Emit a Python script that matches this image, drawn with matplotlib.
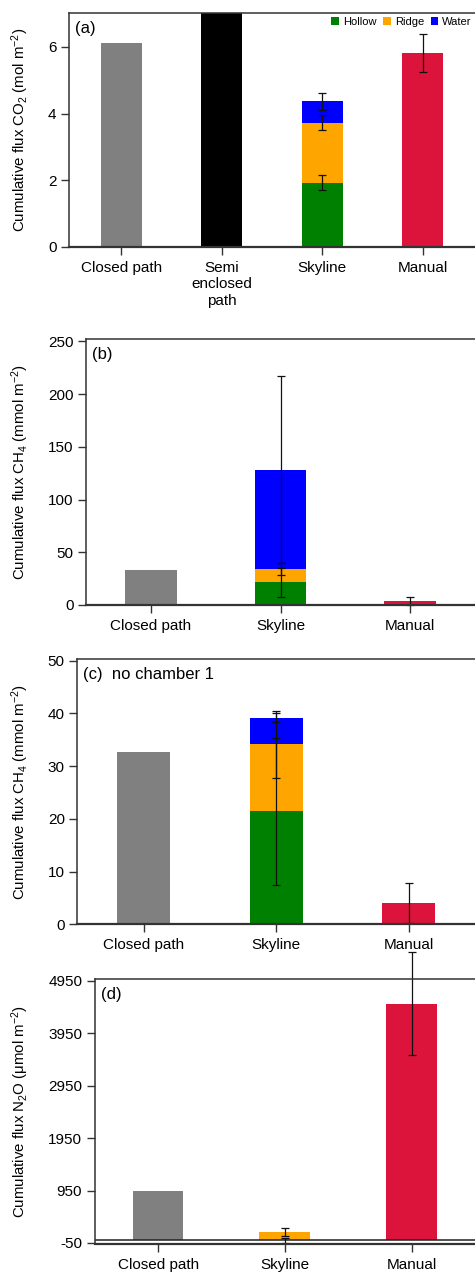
import numpy as np
import matplotlib
matplotlib.use('Agg')
import matplotlib.pyplot as plt
from matplotlib.patches import Patch

plt.rcParams['font.family'] = ['Liberation Sans', 'DejaVu Sans']
plt.rcParams['mathtext.default'] = 'regular'
plt.rcParams['axes.unicode_minus'] = False

# ---- data ----
cats_a = ['Closed path', 'Semi\nenclosed\npath', 'Skyline', 'Manual']
cats_bcd = ['Closed path', 'Skyline', 'Manual']

# (a) CO2, mol m-2
co2_closed = 6.12
co2_semi = 7.6           # runs off the top of the axis
co2_sky = [1.92, 1.81, 0.64]          # hollow, ridge, water
co2_sky_err = [0.23, 0.22, 0.26]
co2_manual = 5.83
co2_manual_err = 0.57

# (b) CH4, mmol m-2
ch4_closed = 33.0
ch4_sky = [21.5, 12.7, 94.3]
ch4_sky_err = [13.6, 6.0, 88.3]
ch4_manual = 4.1
ch4_manual_err = 3.8

# (c) CH4 without chamber 1, mmol m-2
ch4n_closed = 32.6
ch4n_sky = [21.4, 12.7, 5.1]
ch4n_sky_err = [14.0, 6.4, 0.9]
ch4n_manual = 4.0
ch4n_manual_err = 3.75

# (d) N2O, umol m-2
n2o_closed = 947
n2o_sky = [0, 163, 0]
n2o_sky_err = [50, 79, 0]
n2o_manual = 4511
n2o_manual_err = 978

comp_names = ['Hollow', 'Ridge', 'Water']
comp_colors = ['#008000', '#FFA500', '#0000FF']
GRAY = '#808080'
RED = '#DC143C'

W, H = 475, 1276
fig = plt.figure(figsize=(W / 100, H / 100), dpi=100)


def make_ax(left, top, bottom):
    ax = fig.add_axes([left / W, 1 - bottom / H, (W - left) / W, (bottom - top) / H])
    ax.spines['right'].set_visible(False)
    for s in ['left', 'top', 'bottom']:
        ax.spines[s].set_color('#333333')
        ax.spines[s].set_linewidth(1.1)
    ax.spines['bottom'].set_linewidth(1.6)
    ax.tick_params(axis='y', length=6, width=1, color='#333333', labelsize=11, pad=3)
    ax.tick_params(axis='x', length=6, width=1, color='#333333', labelsize=11, pad=4)
    return ax


def errbars(ax, x, y, e):
    c = ax.errorbar(x, y, yerr=e, fmt='none', ecolor='#111111', elinewidth=0.9,
                    capsize=3, capthick=0.9)
    for part in c.lines:
        if part is None:
            continue
        items = part if isinstance(part, tuple) else (part,)
        for it in items:
            it.set_clip_on(False)


def skyline_stack(ax, x, vals, errs, width):
    bottoms = np.concatenate([[0], np.cumsum(vals)[:-1]])
    tops = np.cumsum(vals)
    for v, b, col in zip(vals, bottoms, comp_colors):
        ax.bar(x, v, bottom=b, width=width, color=col)
    for t, e in zip(tops, errs):
        if e > 0:
            errbars(ax, x, t, e)


def ylabel(ax_top, ax_bottom, text):
    fig.text(20 / W, 1 - (ax_top + ax_bottom) / 2 / H, text, rotation=90,
             ha='center', va='center', fontsize=10.8)


def panel_label(ax, text):
    ax.annotate(text, xy=(0, 1), xycoords='axes fraction', xytext=(6, -15),
                textcoords='offset pixels', ha='left', va='center', fontsize=12)


# ---- (a) ----
ax = make_ax(69, 13, 246.7)
ax.bar(0, co2_closed, width=0.41, color=GRAY)
ax.bar(1, co2_semi, width=0.41, color='black')
skyline_stack(ax, 2, co2_sky, co2_sky_err, 0.41)
ax.bar(3, co2_manual, width=0.41, color=RED)
errbars(ax, 3, co2_manual, co2_manual_err)
ax.set_xlim(-0.52, 3.52)
ax.set_ylim(0, 7.02)
ax.set_yticks([0, 2, 4, 6])
ax.set_xticks(range(4))
ax.set_xticklabels(cats_a, linespacing=1.25)
panel_label(ax, '(a)')
handles = [Patch(facecolor=c, edgecolor='none', label=n) for c, n in zip(comp_colors, comp_names)]
ax.legend(handles=handles, ncol=3, loc='upper right', bbox_to_anchor=(0.992, 0.985),
          frameon=False, fontsize=8, handlelength=0.7, handleheight=0.7,
          handletextpad=0.35, columnspacing=0.6, borderpad=0, borderaxespad=0)
ylabel(13, 246.7, r'Cumulative flux CO$_2$ (mol m$^{-2}$)')

# ---- (b) ----
ax = make_ax(86, 339.3, 605)
ax.bar(0, ch4_closed, width=0.4, color=GRAY)
skyline_stack(ax, 1, ch4_sky, ch4_sky_err, 0.4)
ax.bar(2, ch4_manual, width=0.4, color=RED)
errbars(ax, 2, ch4_manual, ch4_manual_err)
ax.set_xlim(-0.5, 2.5)
ax.set_ylim(0, 252)
ax.set_yticks([0, 50, 100, 150, 200, 250])
ax.set_xticks(range(3))
ax.set_xticklabels(cats_bcd)
panel_label(ax, '(b)')
ylabel(339.3, 605, r'Cumulative flux CH$_4$ (mmol m$^{-2}$)')

# ---- (c) ----
ax = make_ax(77.3, 659, 924.3)
ax.bar(0, ch4n_closed, width=0.4, color=GRAY)
skyline_stack(ax, 1, ch4n_sky, ch4n_sky_err, 0.4)
ax.bar(2, ch4n_manual, width=0.4, color=RED)
errbars(ax, 2, ch4n_manual, ch4n_manual_err)
ax.set_xlim(-0.5, 2.5)
ax.set_ylim(0, 50.3)
ax.set_yticks([0, 10, 20, 30, 40, 50])
ax.set_xticks(range(3))
ax.set_xticklabels(cats_bcd)
panel_label(ax, '(c)  no chamber 1')
ylabel(659, 924.3, r'Cumulative flux CH$_4$ (mmol m$^{-2}$)')

# ---- (d) ----
ax = make_ax(94.7, 979, 1244.3)
ax.axhline(0, color='#222222', lw=1.1)
ax.bar(0, n2o_closed, width=0.4, color=GRAY)
skyline_stack(ax, 1, n2o_sky, n2o_sky_err, 0.4)
ax.bar(2, n2o_manual, width=0.4, color=RED)
errbars(ax, 2, n2o_manual, n2o_manual_err)
ax.set_xlim(-0.5, 2.5)
ax.set_ylim(-75, 4982)
ax.set_yticks([-50, 950, 1950, 2950, 3950, 4950])
ax.set_xticks(range(3))
ax.set_xticklabels(cats_bcd)
panel_label(ax, '(d)')
ylabel(979, 1244.3, r'Cumulative flux N$_2$O (μmol m$^{-2}$)')

fig.savefig('out.png', dpi=100)
